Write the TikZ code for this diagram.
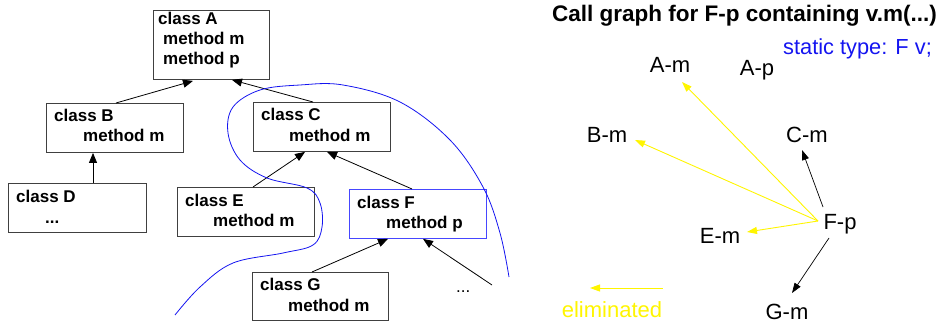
\documentclass[tikz,border=0pt]{standalone}
\usepackage{fontspec}
\setmainfont{Liberation Sans}
\usetikzlibrary{arrows.meta}
\definecolor{boxblue}{RGB}{70,70,255}
\definecolor{curveblue}{RGB}{20,20,240}
\definecolor{elim}{RGB}{255,245,0}
\tikzset{
  classbox/.style={draw=black!75, line width=0.9pt, anchor=north west, inner sep=0pt},
  btxt/.style={anchor=base west, inner sep=0pt, font=\bfseries\fontsize{17}{20}\selectfont},
  cg/.style={anchor=base, inner sep=1pt, font=\fontsize{22}{26}\selectfont},
  inh/.style={line width=0.8pt, -{Triangle[length=10pt,width=8pt]}},
  callarr/.style={line width=0.7pt, -{Triangle[length=10pt,width=7pt]}},
  elimarr/.style={line width=0.9pt, elim, -{Triangle[length=10pt,width=7pt]}},
}
\begin{document}
\begin{tikzpicture}[x=1pt,y=-1pt]
\useasboundingbox (0,0) rectangle (944,323);
% boxes
\node[classbox, minimum width=116pt, minimum height=69pt] (A) at (153,10) {};
\node[classbox, minimum width=137pt, minimum height=49pt] (B) at (46,103) {};
\node[classbox, minimum width=137pt, minimum height=49pt] (C) at (253,102) {};
\node[classbox, minimum width=138pt, minimum height=49pt] (D) at (8,183) {};
\node[classbox, minimum width=137pt, minimum height=49pt] (E) at (177,187) {};
\node[classbox, draw=boxblue, minimum width=137pt, minimum height=49pt] (F) at (349,189) {};
\node[classbox, minimum width=136pt, minimum height=48pt] (G) at (252,272) {};
% texts
\node[btxt] (A1) at (158,25) {class A};
\node[btxt] (A2) at (163,45) {method m};
\node[btxt] (A3) at (163,65) {method p};
\node[btxt] (B1) at (54,122) {class B};
\node[btxt] (B2) at (83,142) {method m};
\node[btxt] (C1) at (261,121) {class C};
\node[btxt] (C2) at (289,142) {method m};
\node[btxt] (D1) at (16,202) {class D};
\node[btxt] (D2) at (45,223) {...};
\node[btxt] (E1) at (185,206) {class E};
\node[btxt] (E2) at (213,226) {method m};
\node[btxt] (F1) at (357,208) {class F};
\node[btxt] (F2) at (386,228) {method p};
\node[btxt] (G1) at (260,290) {class G};
\node[btxt] (G2) at (288,311) {method m};
\node[anchor=base west, inner sep=0pt, font=\fontsize{17}{20}\selectfont] (dots) at (456,292) {...};
\coordinate (dotsend) at (492,285);
% inheritance arrows
\draw[inh] ([xshift=70pt]B.north west) -- ([xshift=40pt,yshift=-1pt]A.south west);
\draw[inh] ([xshift=60pt]C.north west) -- ([xshift=79pt]A.south west);
\draw[inh] ([xshift=85pt]D.north west) -- ([xshift=47pt]B.south west);
\draw[inh] ([xshift=76pt]E.north west) -- ([xshift=52pt]C.south west);
\draw[inh] ([xshift=63pt]F.north west) -- ([xshift=74pt]C.south west);
\draw[inh] ([xshift=60pt]G.north west) -- ([xshift=39pt]F.south west);
\draw[inh] (dotsend) -- ([xshift=74pt]F.south west);
% blue curve
\draw[curveblue, line width=0.8pt] plot[smooth, tension=0.6] coordinates {
 (175,315) (200,287) (233,263) (283,253) (313,245) (322,227) (320,203) (307,188)
 (267,178) (240,160) (228,133) (233,107) (260,90) (300,85) (343,85) (400,102)
 (450,140) (483,187) (500,233) (509,277)};
% call graph
\node[anchor=base west, inner sep=0pt, font=\bfseries\fontsize{22.5}{26}\selectfont] (title) at (552,22) {Call graph for F-p containing v.m(...)};
\node[anchor=base west, inner sep=0pt, text=curveblue, font=\fontsize{21.8}{26}\selectfont] (static) at (783,55) {static type: F v;};
\node[cg] (Am) at (670,73) {A-m};
\node[cg] (Ap) at (757,76) {A-p};
\node[cg] (Bm) at (607,143) {B-m};
\node[cg] (Cm) at (807,143) {C-m};
\node[cg] (Fp) at (840,229) {F-p};
\node[cg] (Em) at (720,243) {E-m};
\node[cg] (Gm) at (787,319) {G-m};
\node[cg, text=elim] (elimtxt) at (612,317) {eliminated};
\coordinate (Fpw) at (818,221);
\coordinate (Fpn) at (823,207);
\coordinate (Fps) at (829,238);
\coordinate (Amend) at (682,82);
\coordinate (Bmend) at (635,140);
\coordinate (Emend) at (747,232);
\coordinate (Cmend) at (802,150);
\coordinate (Gmend) at (792,293);
\coordinate (legs) at (663,288);
\coordinate (lege) at (590,288);
\draw[elimarr] (Fpw) -- (Amend);
\draw[elimarr] (Fpw) -- (Bmend);
\draw[elimarr] (Fpw) -- (Emend);
\draw[callarr] (Fpn) -- (Cmend);
\draw[callarr] (Fps) -- (Gmend);
\draw[elimarr] (legs) -- (lege);
\end{tikzpicture}
\end{document}
